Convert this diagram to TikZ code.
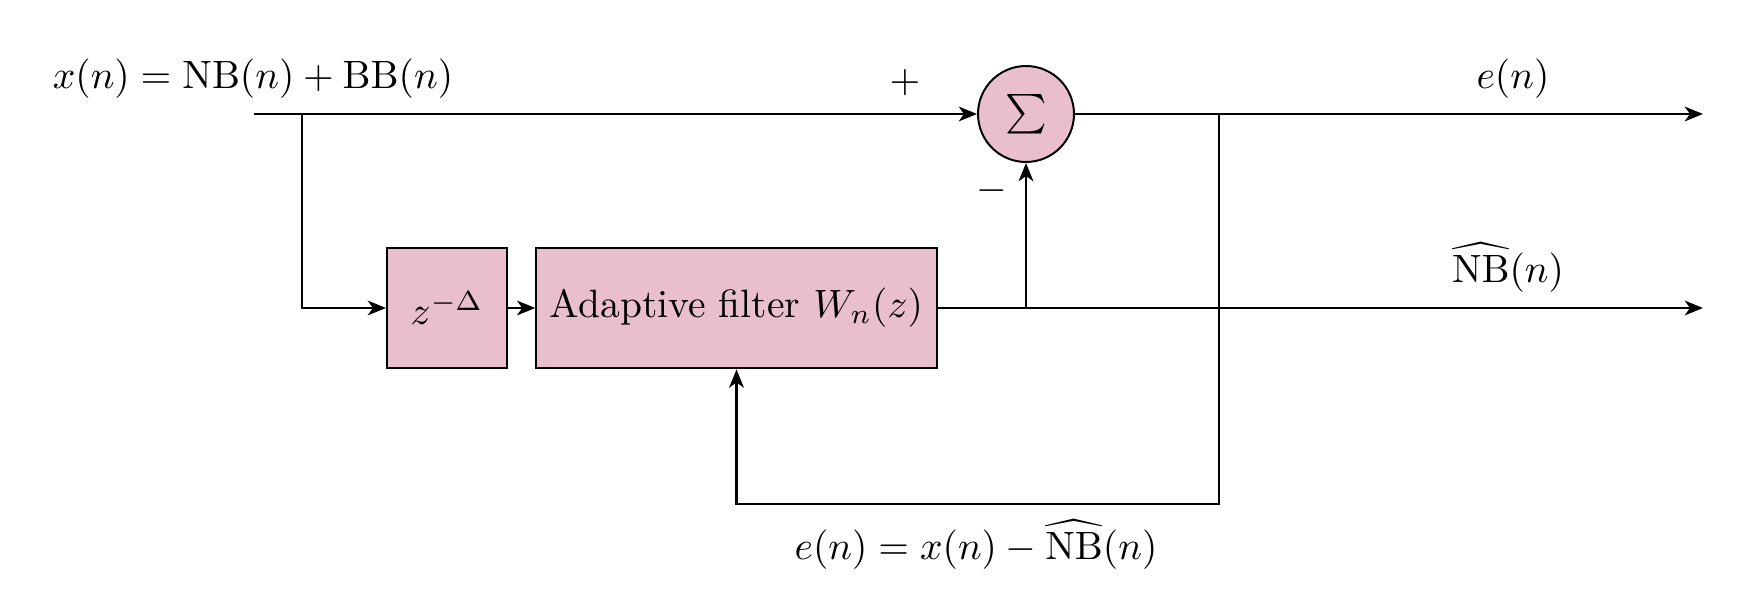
\documentclass[tikz,border=0pt]{standalone}
\usetikzlibrary{arrows.meta}
\definecolor{boxpink}{RGB}{233,191,205}
\begin{document}
\begin{tikzpicture}[x=0.2532pt,y=-0.2532pt,
  blockbox/.style={draw=black,line width=0.5pt,fill=boxpink,inner sep=0pt},
  conn/.style={line width=0.7pt},
  arr/.style={conn,-{Stealth[length=4.6pt,width=3.7pt,inset=1.3pt]}},
  lbl/.style={inner sep=0pt}]
\useasboundingbox (0,0) rectangle (1748,594);
% blocks
\node[blockbox,circle,minimum size=24.3pt] (sum) at (1026,114) {$\sum$};
\node[blockbox,minimum width=30.4pt,minimum height=30.6pt] (zbox) at (447,308) {$z^{-\Delta}$};
\node[blockbox,minimum width=101.4pt,minimum height=30.6pt] (af) at (736.5,308) {Adaptive filter $W_n(z)$};
% coordinates
\coordinate (in) at (254,114);
\coordinate (b1) at (302,114);
\coordinate (j1) at (1026,308);
\coordinate (j2) at (1219,114);
\coordinate (fbc) at (1219,504);
\coordinate (out1) at (1703,114);
\coordinate (out2) at (1703,308);
% connectors
\draw[arr] (in) -- (sum.west);
\draw[arr] (b1) |- (zbox.west);
\draw[arr] (zbox.east) -- (af.west);
\draw[arr] (af.east) -- (out2);
\draw[arr] (j1) -- (sum.south);
\draw[arr] (sum.east) -- (out1);
\draw[arr] (j2) -- (fbc) -| (af.south);
% labels
\node[lbl] (lx) at (253,79) {$x(n)=\mathrm{NB}(n)+\mathrm{BB}(n)$};
\node[lbl] (lplus) at (905,83) {$+$};
\node[lbl] (lminus) at (992,191) {$-$};
\node[lbl] (le) at (1513,79) {$e(n)$};
\node[lbl] (lnb) at (1508,268) {$\widehat{\mathrm{NB}}(n)$};
\node[lbl] (lerr) at (976,545) {$e(n)=x(n)-\widehat{\mathrm{NB}}(n)$};
\end{tikzpicture}
\end{document}
